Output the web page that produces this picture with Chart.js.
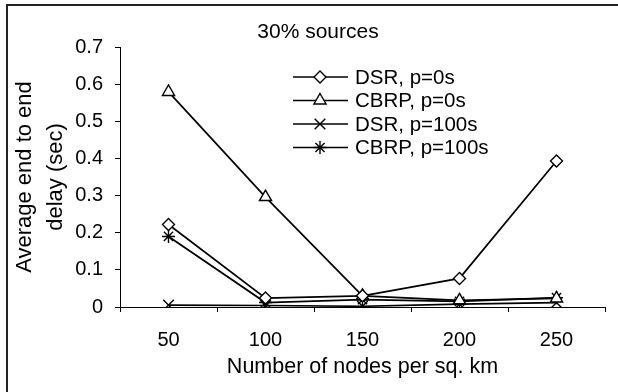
<!DOCTYPE html>
<html>
<head>
<meta charset="utf-8">
<script src="https://cdn.jsdelivr.net/npm/chart.js"></script>
<style>
  html, body { margin: 0; padding: 0; background: #fff; }
  #wrap { width: 618px; height: 392px; }
</style>
</head>
<body>
<div id="wrap"><canvas id="grafico" width="618" height="392"></canvas></div>
<script>
const nodos = ['50', '100', '150', '200', '250'];

const dsrP0 = [0.222, 0.024, 0.03, 0.077, 0.393];
const cbrpP0 = [0.579, 0.296, 0.03, 0.018, 0.023];
const dsrP100 = [0.005, 0.004, 0.002, 0.008, 0.012];
const cbrpP100 = [0.19, 0.012, 0.02, 0.015, 0.025];

const yTicks = [0, 0.1, 0.2, 0.3, 0.4, 0.5, 0.6, 0.7];

const fuente = 'Liberation Sans, Arial, sans-serif';

const serie = (label, data, estilo, radio) => ({
  label: label,
  data: data,
  borderColor: '#000',
  backgroundColor: '#fff',
  borderWidth: 1.7,
  pointStyle: estilo,
  pointRadius: radio,
  pointBorderColor: '#000',
  pointBackgroundColor: '#fff',
  pointBorderWidth: 1.4,
  tension: 0
});

const series = [
  serie('DSR, p=0s', dsrP0, 'rectRot', 6),
  serie('CBRP, p=0s', cbrpP0, 'triangle', 7),
  serie('DSR, p=100s', dsrP100, 'crossRot', 7.5),
  serie('CBRP, p=100s', cbrpP100, 'star', 6.5)
];

// titulo, borde y leyenda dibujados a mano
const extras = {
  id: 'extras',
  afterDraw: (chart) => {
    const ctx = chart.ctx;
    ctx.save();
    ctx.strokeStyle = '#222';
    ctx.lineWidth = 2;
    ctx.beginPath();
    ctx.moveTo(7, 392);
    ctx.lineTo(7, 5);
    ctx.lineTo(618, 5);
    ctx.stroke();

    ctx.fillStyle = '#000';
    ctx.font = '21px ' + fuente;
    ctx.textAlign = 'center';
    ctx.textBaseline = 'middle';
    ctx.fillText('30% sources', 318, 32);

    ctx.font = '20.5px ' + fuente;
    ctx.textAlign = 'left';
    for (let i = 0; i < chart.data.datasets.length; i++) {
      const ds = chart.data.datasets[i];
      const y = 77 + i * 23.5;
      ctx.strokeStyle = '#000';
      ctx.lineWidth = 1.7;
      ctx.beginPath();
      ctx.moveTo(293, y);
      ctx.lineTo(348, y);
      ctx.stroke();
      ctx.fillStyle = '#fff';
      ctx.lineWidth = 1.4;
      Chart.helpers.drawPoint(ctx, {
        pointStyle: ds.pointStyle,
        radius: ds.pointRadius,
        rotation: 0,
        borderWidth: 1.4
      }, 320, y);
      ctx.fillStyle = '#000';
      ctx.fillText(ds.label, 355, y + 1);
    }
    ctx.restore();
  }
};

const chart = new Chart(document.getElementById('grafico'), {
  type: 'line',
  data: { labels: nodos, datasets: series },
  options: {
    responsive: false,
    animation: false,
    layout: { padding: { left: 0, top: 47, right: 13, bottom: 0 } },
    plugins: { legend: { display: false }, tooltip: { enabled: false } },
    scales: {
      x: {
        offset: true,
        grid: { offset: true, drawOnChartArea: false, drawTicks: true, tickLength: 5, color: '#000' },
        border: { color: '#000', width: 1 },
        ticks: { color: '#000', padding: 16, font: { family: fuente, size: 20 } },
        title: { display: true, text: 'Number of nodes per sq. km', color: '#000',
                 font: { family: fuente, size: 21.5 }, padding: { top: 0, bottom: 12 } },
        afterFit: (scale) => { scale.height = 85; }
      },
      y: {
        min: 0,
        max: 0.7,
        afterBuildTicks: (scale) => { scale.ticks = yTicks.map(v => ({ value: v })); },
        grid: { drawOnChartArea: false, drawTicks: true, tickLength: 5, color: '#000' },
        border: { color: '#000', width: 1 },
        ticks: { color: '#000', padding: 12, font: { family: fuente, size: 20 },
                 callback: (v) => (v === 0 ? '0' : v.toFixed(1)) },
        title: { display: true, text: ['Average end to end', 'delay (sec)'], color: '#000',
                 font: { family: fuente, size: 22, lineHeight: 1.4 }, padding: { top: 10, bottom: 0 } },
        afterFit: (scale) => { scale.width = 120; }
      }
    }
  },
  plugins: [extras]
});
</script>
</body>
</html>
